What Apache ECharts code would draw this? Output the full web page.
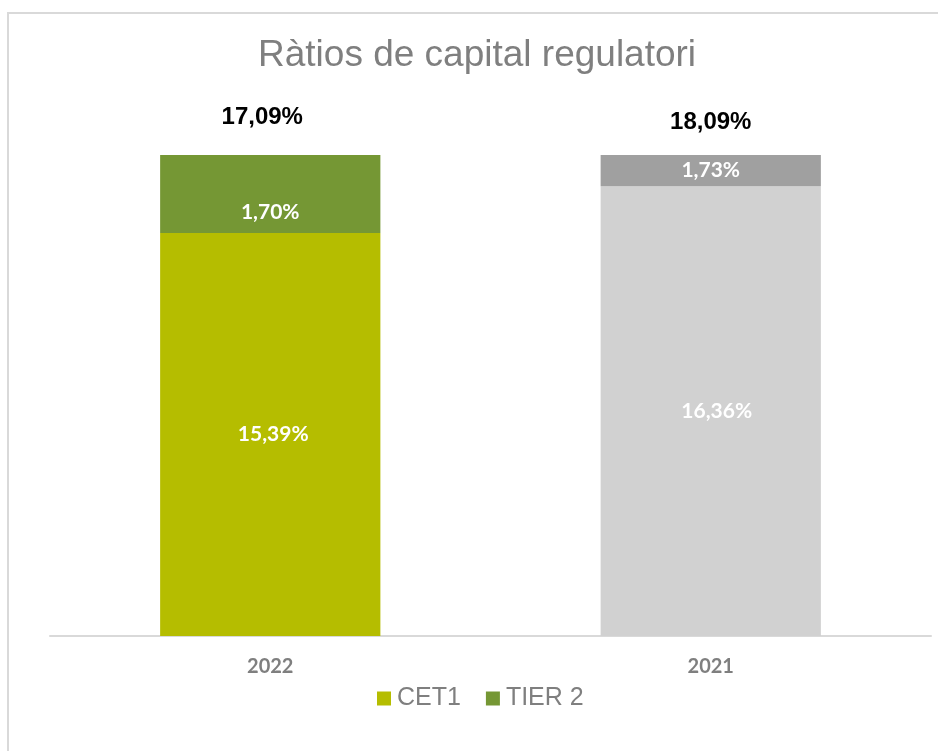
<!DOCTYPE html>
<html>
<head>
<meta charset="utf-8">
<script src="https://cdn.jsdelivr.net/npm/echarts@6/dist/echarts.min.js"></script>
<style>
html,body{margin:0;padding:0;background:#fff;}
#chart{width:938px;height:751px;}
</style>
</head>
<body>
<div id="chart"></div>
<script>
// categories and values (bar segments as drawn in the picture, labels as printed)
var years = ['2022', '2021'];
var cet1 = [15.39, 17.18];
var tier2 = [2.98, 1.19];
var cet1Labels = ['15,39%', '16,36%'];
var tier2Labels = ['1,70%', '1,73%'];
var totalLabels = ['17,09%', '18,09%'];

var cet1Colors = ['#b5bd00', '#d1d1d1'];
var tier2Colors = ['#759734', '#a0a0a0'];

var chart = echarts.init(document.getElementById('chart'));
chart.setOption({
	animation : false,
	title : {
		text : 'Ràtios de capital regulatori',
		left : 258,
		top : 37,
		padding : 0,
		textStyle : {
			fontFamily : 'Liberation Sans',
			fontSize : 37,
			fontWeight : 'normal',
			color : '#7f7f7f'
		}
	},
	graphic : [ {
		type : 'rect',
		shape : { x : 8, y : 13, width : 940, height : 760 },
		style : { fill : 'none', stroke : '#d9d9d9', lineWidth : 2 },
		silent : true
	} ],
	legend : {
		left : 377,
		top : 686,
		padding : 0,
		itemWidth : 14,
		itemHeight : 14,
		itemGap : 25,
		icon : 'rect',
		textStyle : {
			fontFamily : 'Liberation Sans',
			fontSize : 25,
			color : '#7f7f7f',
			padding : [ 0, 0, 0, 1 ]
		},
		data : [ 'CET1', 'TIER 2' ]
	},
	grid : {
		left : 50,
		right : 7,
		top : 155,
		bottom : 115
	},
	xAxis : {
		type : 'category',
		data : years,
		axisTick : { show : false },
		axisLine : { lineStyle : { color : '#d9d9d9', width : 2 } },
		axisLabel : {
			margin : 21,
			fontFamily : 'Lato',
			fontWeight : 'bold',
			fontSize : 20,
			color : '#7f7f7f'
		}
	},
	yAxis : {
		type : 'value',
		min : 0,
		max : 18.37,
		show : false,
		splitLine : { show : false }
	},
	series : [ {
		name : 'CET1',
		type : 'bar',
		stack : 'total',
		barWidth : '50%',
		itemStyle : { color : cet1Colors[0] },
		data : cet1.map(function(v, i) {
			return {
				value : v,
				itemStyle : { color : cet1Colors[i] },
				label : { offset : [ i === 0 ? 3 : 6, 0 ] }
			};
		}),
		label : {
			show : true,
			position : 'inside',
			formatter : function(p) { return cet1Labels[p.dataIndex]; },
			fontFamily : 'Lato',
			fontWeight : 'bold',
			fontSize : 21,
			color : '#fff'
		}
	}, {
		name : 'TIER 2',
		type : 'bar',
		stack : 'total',
		barWidth : '50%',
		itemStyle : { color : tier2Colors[0] },
		data : tier2.map(function(v, i) {
			return {
				value : v,
				itemStyle : { color : tier2Colors[i] },
				label : { offset : [ 0, i === 0 ? 18 : 0 ] }
			};
		}),
		label : {
			show : true,
			position : 'inside',
			formatter : function(p) { return tier2Labels[p.dataIndex]; },
			fontFamily : 'Lato',
			fontWeight : 'bold',
			fontSize : 21,
			color : '#fff'
		}
	}, {
		name : 'total',
		type : 'bar',
		stack : 'total',
		barWidth : '50%',
		data : years.map(function(y, i) {
			return {
				value : 0,
				label : { distance : i === 0 ? 26 : 21, offset : [ i === 0 ? -8 : 0, 0 ] }
			};
		}),
		itemStyle : { color : 'transparent' },
		label : {
			show : true,
			position : 'top',
			formatter : function(p) { return totalLabels[p.dataIndex]; },
			fontFamily : 'Liberation Sans',
			fontWeight : 'bold',
			fontSize : 24,
			color : '#000'
		}
	} ]
});
</script>
</body>
</html>
